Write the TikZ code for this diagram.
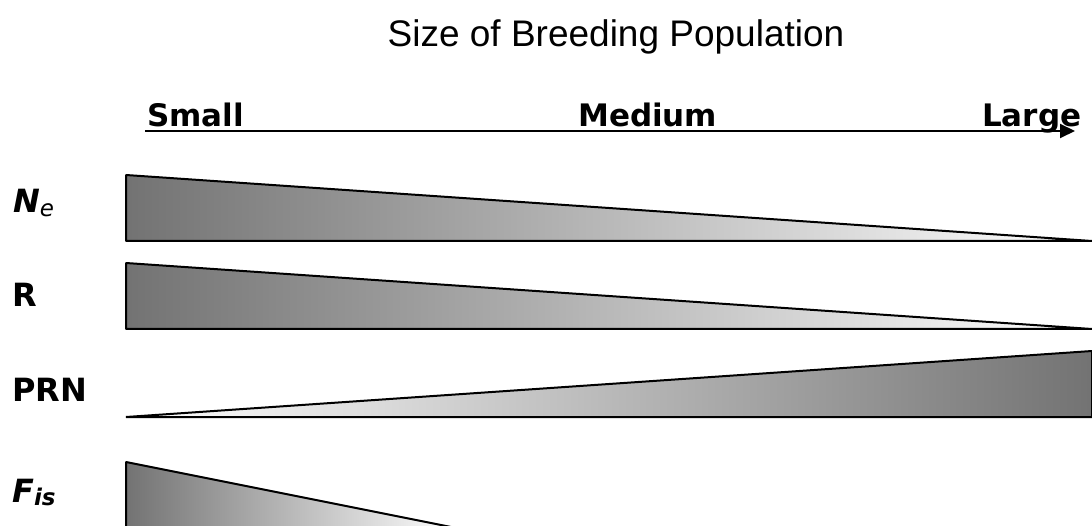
\documentclass[tikz,border=0pt]{standalone}
\usepackage{fontspec}
\setmainfont{Liberation Sans}
\newfontfamily\labfont{DejaVu Sans}
\usetikzlibrary{arrows.meta}
\definecolor{darkgr}{gray}{0.45}
\definecolor{lightend}{gray}{1.0}
\tikzset{
  tri/.style={draw=black, line width=2pt, line join=bevel},
  axislabel/.style={anchor=base west, inner sep=0pt, font=\labfont\bfseries\fontsize{31}{36}\selectfont},
  rowlabel/.style={anchor=base west, inner sep=0pt, font=\labfont\bfseries\fontsize{32}{36}\selectfont},
  titlefont/.style={anchor=base, inner sep=0pt, font=\fontsize{37}{42}\selectfont}
}
\begin{document}
\begin{tikzpicture}[x=1pt,y=-1pt]
\useasboundingbox (0,0) rectangle (1092,526);
\clip (0,0) rectangle (1092,526);
% title
\node[titlefont] (title) at (616,47) {Size of Breeding Population};
% axis
\coordinate (axL) at (145,131);
\coordinate (axR) at (1075,131);
\draw[line width=2pt, -{Triangle[length=15pt,width=14pt]}] (axL) -- (axR);
\node[axislabel] (small) at (147,127) {Small};
\node[axislabel] (medium) at (578,127) {Medium};
\node[axislabel] (large) at (982,127) {Large};
% row labels
\node[rowlabel] (ne) at (13,213) {\itshape N\raisebox{-4pt}{\mdseries\fontsize{23}{25}\selectfont e}};
\node[rowlabel] (r) at (12,307) {R};
\node[rowlabel] (prn) at (12,401) {PRN};
\node[rowlabel] (fis) at (12,502) {\itshape F\raisebox{-3pt}{\fontsize{23}{25}\selectfont is}};
% wedges
\draw[tri, left color=darkgr, right color=lightend] (126,175) -- (126,241) -- (1092,241) -- cycle;
\draw[tri, left color=darkgr, right color=lightend] (126,263) -- (126,329) -- (1092,329) -- cycle;
\draw[tri, left color=lightend, right color=darkgr] (126,417) -- (1092,351) -- (1092,417) -- cycle;
\draw[tri, left color=darkgr, right color=lightend] (126,462) -- (126,528) -- (456,528) -- cycle;
\end{tikzpicture}
\end{document}
